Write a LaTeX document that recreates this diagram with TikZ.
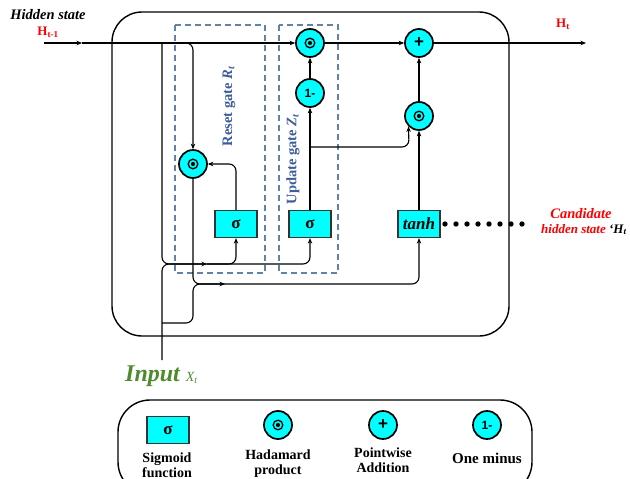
\documentclass[tikz,border=0pt]{standalone}
\usepackage{fontspec}
\setmainfont{Liberation Serif}
\newfontfamily\sansb{Liberation Sans}
\usetikzlibrary{arrows.meta}
\definecolor{cy}{HTML}{00FFFF}
\definecolor{gateblue}{HTML}{3D5C9A}
\definecolor{dashc}{HTML}{6283A8}
\definecolor{inputgreen}{HTML}{4F8A2E}
\definecolor{hred}{HTML}{FF0000}
\newcommand{\fs}[1]{\fontsize{#1}{#1}\selectfont}
\begin{document}
\begin{tikzpicture}[x=1pt,y=-1pt,
  conn/.style={line width=1.1pt, rounded corners=7pt},
  arr/.style={-{Stealth[length=5.5pt,width=4.5pt]}},
  opc/.style={circle, draw, line width=1.7pt, fill=cy, minimum size=28pt, inner sep=0pt},
  had/.style={opc, path picture={
      \draw[black, line width=1.3pt] (path picture bounding box.center) circle (4.8pt);
      \fill[black] (path picture bounding box.center) circle (2.1pt);}},
  sbox/.style={draw=black!80, line width=1.3pt, fill=cy, minimum width=42pt, minimum height=27pt, inner sep=0pt, font=\bfseries\fs{17}},
  gatebox/.style={draw=dashc, dash pattern=on 6pt off 4pt, line width=1.2pt},
  gatelabel/.style={rotate=90, text=gateblue, font=\bfseries\fs{14.5}},
  legtext/.style={align=center, font=\bfseries\fs{14}, inner sep=0pt},
]
\useasboundingbox (0,0) rectangle (630,479);
\clip (0,0) rectangle (630,479);

% frames
\draw[line width=1.4pt, rounded corners=30pt] (112,12) rectangle (509,336);
\draw[gatebox] (175,25) rectangle (265,273);
\draw[gatebox] (279,25) rectangle (338,273);
\draw[line width=1.4pt, rounded corners=32pt] (118,400) rectangle (532,494);

% operation nodes
\node[had] (h1) at (310,43) {};
\node[opc] (plus) at (419,43) {\sansb\bfseries\fs{17}+};
\node[opc] (om) at (310,93) {\sansb\bfseries\fs{12}1-};
\node[had] (h2) at (419,116) {};
\node[had] (rh) at (193,164) {};
\node[sbox] (rs) at (236,224) {σ};
\node[sbox] (us) at (310,224) {σ};
\node[sbox, font=\bfseries\itshape\fs{17}] (th) at (419,224) {tanh};

% coordinates
\coordinate (hin) at (44,43);
\coordinate (hmid) at (82,43);
\coordinate (hout) at (586,43);
\coordinate (j1) at (162,43);
\coordinate (j2) at (180,43);
\coordinate (xin) at (162,360);
\coordinate (xj) at (162,323);
\coordinate (gmid) at (207,264);
\coordinate (tmid) at (225,284);
\coordinate (j3) at (310,147);

% main line
\draw[conn,arr] (hin) -- (hmid);
\draw[conn,arr] (hmid) -- (h1);
\draw[conn,arr] (h1) -- (plus);
\draw[conn,arr] (plus) -- (hout);

% to gates
\draw[conn,arr] (j1) -- (162,264) -- (gmid);
\draw[conn] (xin) -- (162,264) -- (gmid);
\draw[conn,arr] (gmid) -- (236,264) -- (rs.south);
\draw[conn,arr] (gmid) -- (310,264) -- (us.south);

% reset path
\draw[conn,arr] (j2) -- (193,43) -- (rh.north);
\draw[conn,arr] (rs.north) -- (236,164) -- (rh.east);

% candidate input
\draw[conn,arr] (xj) -- (193,323) -- (193,284) -- (tmid);
\draw[conn] (rh.south) -- (193,284) -- (tmid);
\draw[conn,arr] (tmid) -- (419,284) -- (th.south);

% update path
\draw[conn,arr] (us.north) -- (om.south);
\draw[conn,arr] (om.north) -- (h1.south);
\draw[conn,arr] (j3) -- (409,147) -- (h2.south west);
\draw[conn,arr] (th.north) -- (h2.south);
\draw[conn,arr] (h2.north) -- (plus.south);

% dots
\foreach \i in {0,...,7} \fill (445+11*\i,224) circle (2.7pt);

% labels
\node[font=\bfseries\itshape\fs{14.5}] (hs) at (48,15) {Hidden state};
\node[text=hred, font=\bfseries\fs{13}] (hl) at (48,32) {H\textsubscript{t-1}};
\node[text=hred, font=\bfseries\fs{13}] (ht) at (563,24) {H\textsubscript{t}};
\node[gatelabel] (rl) at (229,106) {Reset gate \textit{R}\textsubscript{\textit{t}}};
\node[gatelabel] (ul) at (293,159) {Update gate \textit{Z}\textsubscript{\textit{t}}};
\node[text=hred, font=\bfseries\itshape\fs{14.5}] (c1) at (581,214) {Candidate};
\node[anchor=base west, text=hred, font=\bfseries\itshape\fs{13}, inner sep=0pt] (c2) at (541,233) {hidden state \textcolor{black}{`H\textsubscript{t}}};
\node[anchor=base west, text=inputgreen, font=\bfseries\itshape\fs{24}, inner sep=0pt] (inp) at (125,381) {Input \mdseries\fs{14}X\textsubscript{t}};

% legend
\node[sbox] (ls) at (168,430) {σ};
\node[had] (lh) at (278,425) {};
\node[opc] (lp) at (383,425) {\sansb\bfseries\fs{17}+};
\node[opc] (lo) at (487,425) {\sansb\bfseries\fs{12}1-};
\node[legtext] (lst) at (167,465) {Sigmoid\\[1pt]function};
\node[legtext] (lht) at (278,464) {Hadamard\\[1pt]product};
\node[legtext] (lpt) at (383,460) {Pointwise\\[1pt]Addition};
\node[legtext, font=\bfseries\fs{15}] (lot) at (487,458) {One minus};
\end{tikzpicture}
\end{document}
